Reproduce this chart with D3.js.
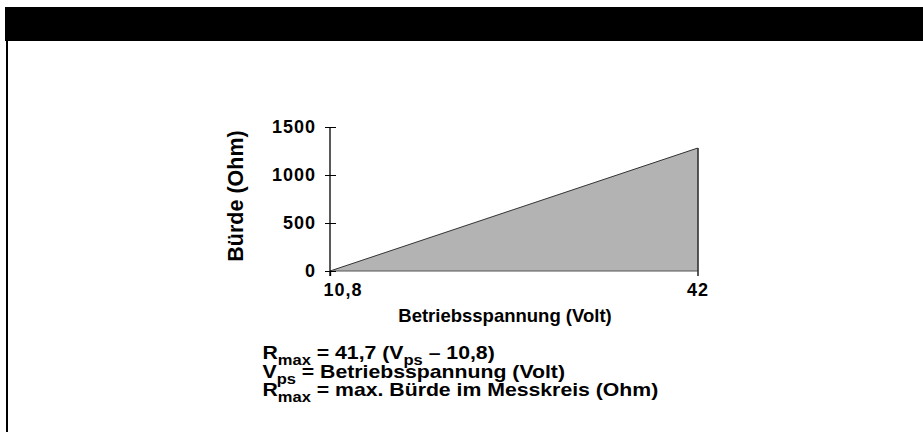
<!DOCTYPE html>
<html><head><meta charset="utf-8">
<script src="https://cdn.jsdelivr.net/npm/d3@7"></script>
<style>
html,body{margin:0;padding:0;background:#fff;}
svg text{font-family:Arial,"Liberation Sans",sans-serif;font-weight:bold;fill:#000;}
</style></head>
<body>
<svg id="c" width="923" height="432"></svg>
<script>
// data
const voltage = [10.8, 42];          // Betriebsspannung (Volt)
const burden = [0, 1280];            // Bürde (Ohm)
const xTickValues = [10.8, 42];
const xTickLabels = ["10,8", "42"];
const yTickValues = [0, 500, 1000, 1500];
const yTickLabels = ["0", "500", "1000", "1500"];
const xTitle = "Betriebsspannung (Volt)";
const yTitle = "Bürde (Ohm)";
const formulaLines = [
  [["R",0],["max",1],[" = 41,7 (V",0],["ps",1],[" – 10,8)",0]],
  [["V",0],["ps",1],[" = Betriebsspannung (Volt)",0]],
  [["R",0],["max",1],[" = max. Bürde im Messkreis (Ohm)",0]]
];

const svg = d3.select("#c");
// frame
svg.append("rect").attr("x",5).attr("y",7).attr("width",918).attr("height",34).attr("fill","#000");
svg.append("rect").attr("x",6).attr("y",41).attr("width",2).attr("height",391).attr("fill","#000");

const x = d3.scaleLinear().domain([10.8, 42]).range([330, 697.5]);
const y = d3.scaleLinear().domain([0, 1500]).range([271, 127]);

const pts = voltage.map((v,i)=>({v, r: burden[i]}));
// area
svg.append("path").datum(pts)
  .attr("d", d3.area().x(d=>x(d.v)).y0(y(0)).y1(d=>y(d.r)))
  .attr("fill","#b3b3b3");
svg.append("path").datum(pts)
  .attr("d", d3.line().x(d=>x(d.v)).y(d=>y(d.r)))
  .attr("fill","none").attr("stroke","#333").attr("stroke-width",1);
// x axis baseline
svg.append("line").attr("x1",x(10.8)).attr("x2",x(42)).attr("y1",y(0)).attr("y2",y(0))
  .attr("stroke","#555").attr("stroke-width",1);

// y axis
const yAxis = svg.append("g").attr("transform",`translate(${x(10.8)},0)`)
  .call(d3.axisLeft(y).tickValues(yTickValues).tickFormat((d,i)=>yTickLabels[i]).tickSize(5).tickPadding(9));
yAxis.select(".domain").remove();
yAxis.selectAll(".tick line").attr("x1",-5).attr("x2",6).attr("stroke","#000");
yAxis.selectAll(".tick text").style("font-size","18px").attr("font-family",null).style("letter-spacing","1px");
svg.append("line").attr("x1",x(10.8)).attr("x2",x(10.8)).attr("y1",y(1500)).attr("y2",y(0)+5)
  .attr("stroke","#000").attr("stroke-width",1.3);

// x axis ticks
const xAxis = svg.append("g").attr("transform",`translate(0,${y(0)})`)
  .call(d3.axisBottom(x).tickValues(xTickValues).tickFormat((d,i)=>xTickLabels[i]).tickSize(5).tickPadding(7));
xAxis.select(".domain").remove();
xAxis.selectAll(".tick line").attr("stroke","#000").attr("stroke-width",1.3)
  .attr("y1",(d,i)=> i===1 ? y(1280)-y(0) : 0);
xAxis.selectAll(".tick text").style("font-size","18px").attr("font-family",null).style("letter-spacing","1px")
  .attr("text-anchor",(d,i)=> i===0 ? "start" : "middle").attr("dx",(d,i)=> i===0 ? -7 : 0);

// titles
svg.append("text").attr("x",505).attr("y",322).attr("text-anchor","middle")
  .style("font-size","18.5px").text(xTitle);
svg.append("text").attr("transform","translate(242.5,196) rotate(-90)").attr("text-anchor","middle")
  .style("font-size","21.5px").text(yTitle);

// formula
const baselines = [359, 378, 396];
formulaLines.forEach((line, li)=>{
  const t = svg.append("text")
    .attr("transform",`translate(262.5,${baselines[li]}) scale(1.18,1)`)
    .style("font-size","18px");
  line.forEach(([s,sub],i)=>{
    const prevSub = i>0 && line[i-1][1];
    const ts = t.append("tspan").text(s);
    if(sub){ ts.style("font-size","14px").attr("dy",6); }
    else if(prevSub){ ts.attr("dy",-6); }
  });
});
</script>
</body></html>
